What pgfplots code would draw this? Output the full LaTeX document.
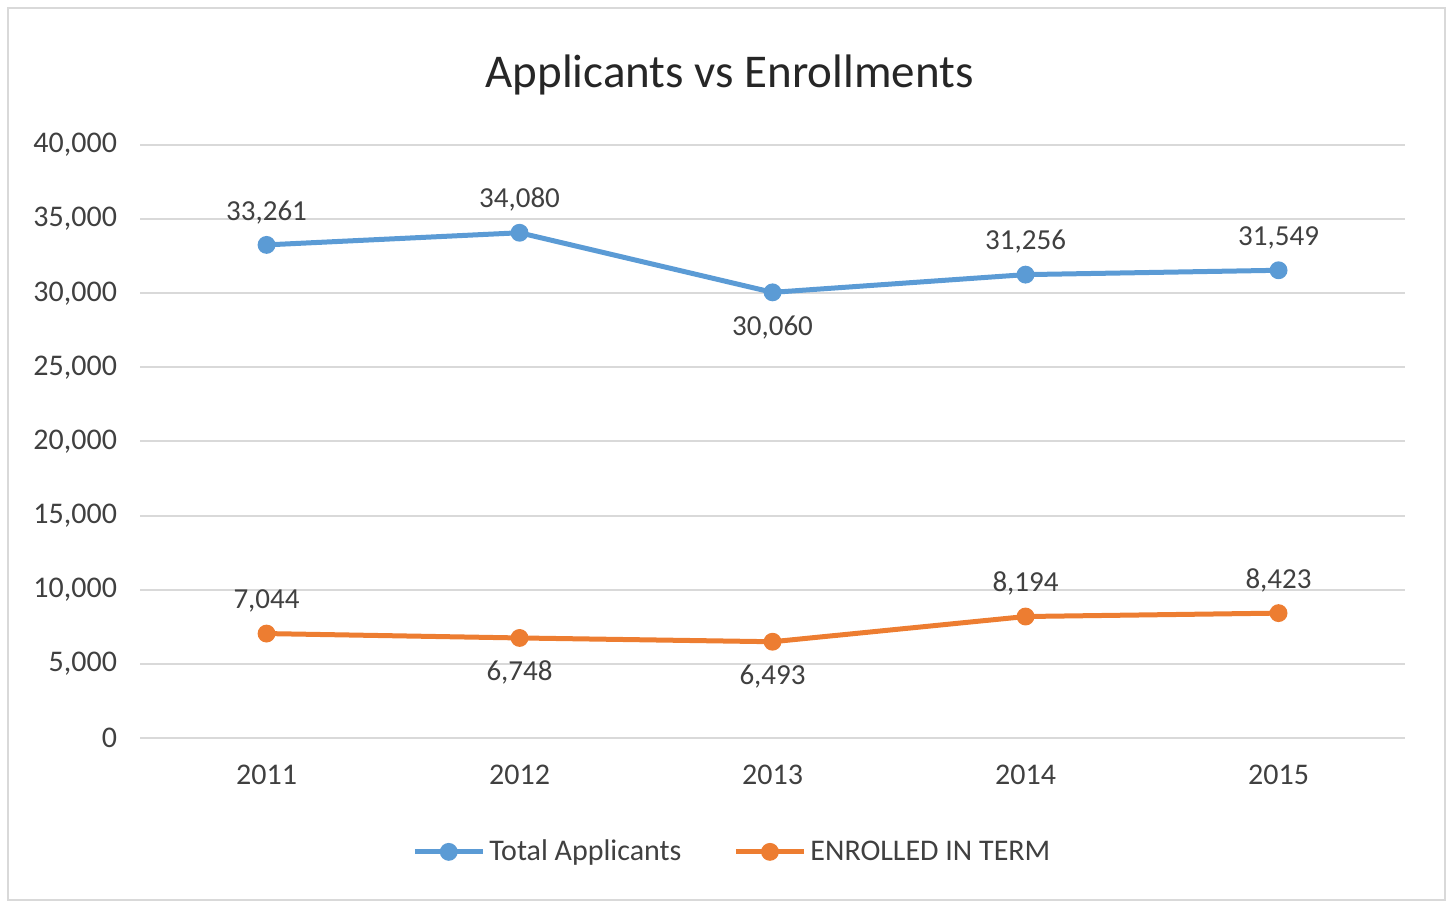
\documentclass[border=0pt]{standalone}
\usepackage{fontspec}
\setmainfont{Carlito}
\usepackage{pgfplots}
\pgfplotsset{compat=1.18}

\definecolor{cblue}{HTML}{5B9BD5}
\definecolor{corange}{HTML}{ED7D31}
\definecolor{cgrid}{HTML}{D9D9D9}
\definecolor{ctext}{HTML}{404040}

\pgfplotsset{
  lab/.style={draw=none, mark=none, forget plot,
    nodes near coords={\pgfmathprintnumber[fixed,precision=0,1000 sep={,}]{\pgfplotspointmeta}},
    nodes near coords style={font=\fontsize{14.5}{17}\selectfont, text=ctext}},
  labup/.style={lab, nodes near coords style={anchor=south, yshift=7pt}},
  labdown/.style={lab, nodes near coords style={anchor=north, yshift=-8pt}},
}

\begin{document}
\begin{tikzpicture}
\begin{axis}[
  scale only axis, width=632.5pt, height=296.5pt,
  clip=false,
  xmin=-0.5, xmax=4.5, ymin=0, ymax=40000,
  xtick={0,1,2,3,4}, xticklabels={2011,2012,2013,2014,2015},
  ytick={0,5000,...,40000},
  scaled y ticks=false,
  /pgf/number format/assume math mode=true,
  /pgf/number format/fixed,
  /pgf/number format/1000 sep={,},
  axis line style={draw=none},
  major tick length=0pt,
  ymajorgrids, grid style={cgrid, line width=1pt},
  ticklabel style={font=\fontsize{15}{18}\selectfont, text=ctext},
  yticklabel style={xshift=-8pt},
  xticklabel style={yshift=-10pt},
  legend style={at={(rel axis cs:0.469,-0.192)}, anchor=center, draw=none, fill=none,
    font=\fontsize{15}{18}\selectfont, text=ctext, legend columns=2,
    /tikz/every even column/.append style={column sep=24pt}},
  legend image code/.code={\draw[mark repeat=2, mark phase=2] plot coordinates {(0pt,0pt)(17pt,0pt)(34pt,0pt)};},
]
% Total Applicants
\addplot[cblue, line width=2.5pt, mark=*, mark size=3.2pt] coordinates {(0,33261) (1,34080) (2,30060) (3,31256) (4,31549)};
\addlegendentry{Total Applicants}
% ENROLLED IN TERM
\addplot[corange, line width=2.5pt, mark=*, mark size=3.2pt] coordinates {(0,7044) (1,6748) (2,6493) (3,8194) (4,8423)};
\addlegendentry{ENROLLED IN TERM}

% data labels
\addplot[labup] coordinates {(0,33261) (1,34080) (3,31256) (4,31549)};
\addplot[labdown] coordinates {(2,30060)};
\addplot[labup] coordinates {(0,7044) (3,8194) (4,8423)};
\addplot[labdown] coordinates {(1,6748) (2,6493)};

\node[font=\fontsize{23.5}{28}\selectfont, text=black!85] at (rel axis cs:0.466,1.118) {Applicants vs Enrollments};
\draw[cgrid, line width=1pt] (rel axis cs:-0.1043,1.2310) rectangle (rel axis cs:1.0316,-0.2732);
\path (rel axis cs:-0.1107,1.2445) (rel axis cs:1.0379,-0.2766);
\end{axis}
\end{tikzpicture}
\end{document}
